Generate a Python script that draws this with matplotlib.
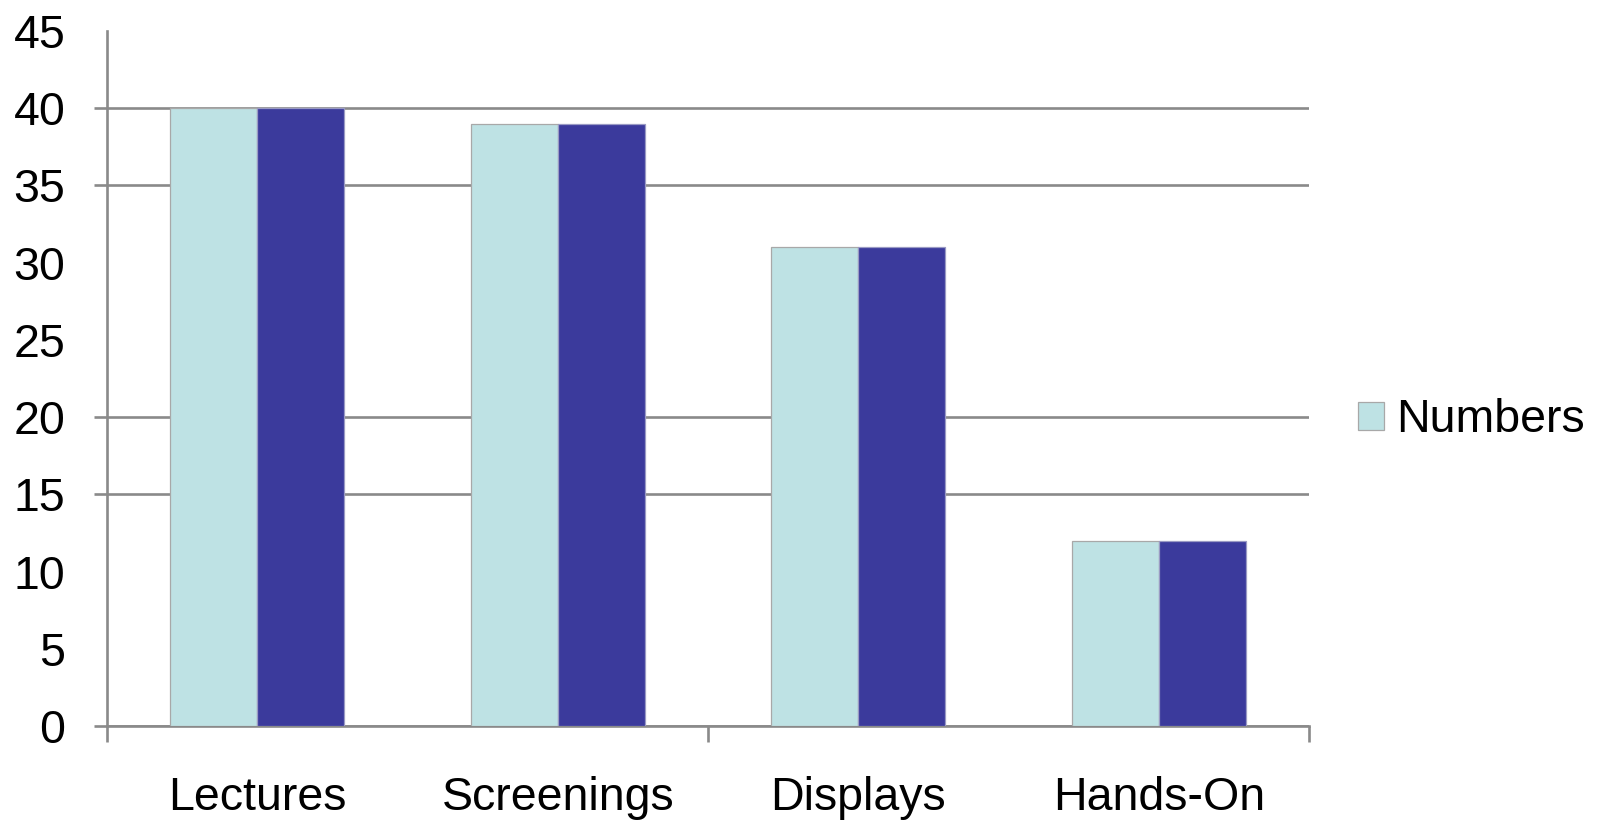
import matplotlib
matplotlib.use("Agg")
import matplotlib.pyplot as plt
import numpy as np

categories = ["Lectures", "Screenings", "Displays", "Hands-On"]
numbers = [40, 39, 31, 12]
numbers_2 = [40, 39, 31, 12]
series_name = "Numbers"
y_ticks = [0, 5, 10, 15, 20, 25, 30, 35, 40, 45]
y_marked = [0, 15, 20, 35, 40]

plt.rcParams['font.family'] = ['Liberation Sans', 'DejaVu Sans']
FS = 33.5
GREY = '#8a8a8a'

fig = plt.figure(figsize=(16.02, 8.22), dpi=100)
ax = fig.add_axes([107/1602, 1 - 726/822, (1309-107)/1602, (726-31)/822])
ax.yaxis.remove_overlapping_locs = False
ax.xaxis.remove_overlapping_locs = False

x = np.arange(len(categories))
w = 0.29
ax.bar(x - w/2, numbers, width=w, color='#BEE2E4', edgecolor='#A8A8A8',
       linewidth=0.9, label=series_name, zorder=3)
ax.bar(x + w/2, numbers_2, width=w, color='#3B3A9C', edgecolor='#9A9AC4',
       linewidth=0.9, label='_nolegend_', zorder=3)

ax.set_xlim(-0.5, len(categories) - 0.5)
ax.set_ylim(0, 45)

# y axis
ax.set_yticks(y_ticks)
ax.set_yticklabels([str(v) for v in y_ticks], fontsize=FS)
ax.tick_params(axis='y', which='major', length=0, pad=30)
ax.set_yticks(y_marked, minor=True)
ax.tick_params(axis='y', which='minor', length=9.5, width=1.9, color=GREY)
ax.yaxis.grid(False, which='major')
ax.yaxis.grid(True, which='minor', color=GREY, linewidth=1.9, zorder=0)

# x axis
ax.set_xticks([-0.5, 1.5, 3.5])
ax.set_xticklabels([])
ax.tick_params(axis='x', which='major', length=11.5, width=1.9, color=GREY)
ax.set_xticks(x, minor=True)
ax.set_xticklabels(categories, minor=True, fontsize=FS)
ax.tick_params(axis='x', which='minor', length=0, pad=36)

for s in ['top', 'right']:
    ax.spines[s].set_visible(False)
for s in ['left', 'bottom']:
    ax.spines[s].set_color(GREY)
    ax.spines[s].set_linewidth(1.9)
ax.set_axisbelow(True)

fig.legend(loc='center left', bbox_to_anchor=(1358/1602, 1 - 420/822),
           frameon=False, fontsize=FS, handlelength=0.55, handleheight=0.55,
           handletextpad=0.27, borderpad=0, borderaxespad=0)

fig.savefig('out.png', dpi=100, facecolor='white')
